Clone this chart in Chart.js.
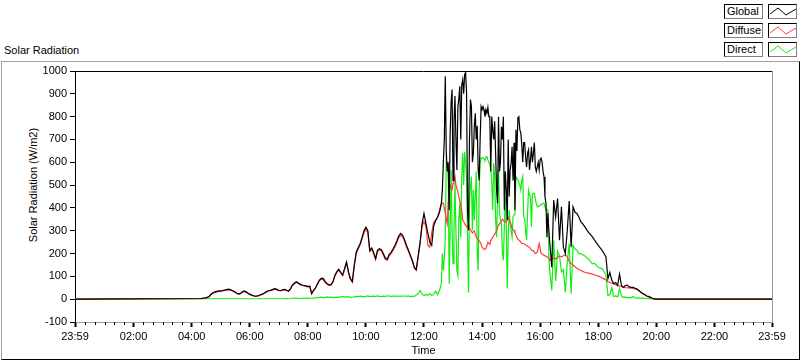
<!DOCTYPE html>
<html>
<head>
<meta charset="utf-8">
<script src="https://cdn.jsdelivr.net/npm/chart.js@4.4.0/dist/chart.umd.min.js"></script>
<style>
  body { margin: 0; background: #fff; font-family: "Liberation Sans", Arial, sans-serif; font-size: 11px; color: #000; }
  #wrap { position: relative; width: 800px; height: 361px; overflow: hidden; }
  #frame { position: absolute; left: 1px; top: 61px; width: 799px; height: 299px; box-sizing: border-box;
           border-top: 1px solid #a0a0a0; border-left: 1px solid #a0a0a0; border-right: 1px solid #000; border-bottom: 1px solid #000; }
  #title { position: absolute; left: 4px; top: 44px; white-space: nowrap; }
  #ytitle { position: absolute; left: 32.5px; top: 184.5px; transform: translate(-50%, -50%) rotate(-90deg); white-space: nowrap; }
  #chart { position: absolute; left: 0; top: 0; }
  .lbl { position: absolute; left: 724px; width: 39px; height: 15px; box-sizing: border-box; border: 1px solid #000;
         border-right-color: #808080; border-bottom-color: #808080; line-height: 13px; padding-left: 2px; background: #fff; }
  .smp { position: absolute; left: 768px; width: 29px; height: 15px; box-sizing: border-box; border: 1px solid #000;
         border-right-color: #808080; border-bottom-color: #808080; background: #fff; }
  .smp svg { position: absolute; left: 0; top: 0; }
</style>
</head>
<body>
<div id="wrap">
  <div id="frame"></div>
  <div id="title">Solar Radiation</div>
  <div id="ytitle">Solar Radiation (W/m2)</div>
  <div id="legend"></div>
  <canvas id="chart" width="800" height="361"></canvas>
</div>
<script>
// 取樣段落 (分鐘)：早上每 4 分鐘，中午每 2 分鐘，下午每 4 分鐘
const segments = [
    { start: 260, step: 4, count: 125 },  // 04:20 - 12:36
    { start: 758, step: 2, count: 111 },  // 12:38 - 16:18
    { start: 980, step: 4, count: 58 }    // 16:20 - 20:08
];
const axisStart = -1;   // 前一天 23:59
const axisEnd = 1439;   // 23:59

const seriesNames = ['Global', 'Diffuse', 'Direct'];
const seriesColors = ['#000000', '#ff3b3b', '#12ee12'];

const globalValues = [
  // 04:20 - 12:36
  3, 5, 6, 8, 12, 22, 28, 32, 34, 36,
  36, 38, 40, 42, 44, 42, 38, 34, 28, 23,
  24, 30, 36, 33, 27, 22, 18, 15, 13, 14,
  17, 21, 24, 30, 35, 38, 40, 43, 46, 43,
  39, 38, 41, 43, 40, 36, 45, 62, 70, 77,
  72, 66, 62, 60, 58, 56, 57, 24, 40, 50,
  68, 84, 92, 90, 76, 68, 63, 64, 77, 105,
  121, 131, 118, 106, 135, 163, 120, 90, 77, 150,
  206, 225, 243, 270, 300, 315, 300, 214, 225, 205,
  178, 215, 221, 217, 200, 180, 175, 195, 205, 220,
  236, 255, 278, 288, 280, 260, 235, 215, 192, 170,
  140, 130, 190, 250, 330, 376, 332, 290, 250, 236,
  320, 345, 359, 380, 421,
  // 12:38 - 16:18
  480, 600, 700, 977, 650, 560, 600, 390, 720, 861,
  919, 520, 780, 890, 700, 566, 840, 880, 933, 700,
  940, 963, 900, 985, 993, 905, 390, 302, 700, 875,
  844, 600, 640, 760, 815, 700, 760, 566, 520, 700,
  844, 830, 844, 830, 800, 830, 815, 840, 800, 800,
  560, 800, 742, 700, 780, 640, 478, 421, 800, 560,
  600, 756, 700, 800, 390, 560, 478, 346, 700, 450,
  566, 594, 668, 520, 686, 390, 742, 650, 795, 800,
  742, 730, 680, 600, 686, 686, 620, 580, 640, 655,
  566, 611, 668, 600, 640, 686, 580, 560, 580, 600,
  566, 611, 618, 600, 560, 536, 448, 420, 271, 376,
  300,
  // 16:20 - 20:08
  244, 140, 434, 360, 441, 258, 405, 228, 200, 300,
  430, 228, 405, 381, 376, 360, 340, 330, 318, 305,
  293, 283, 273, 260, 248, 236, 225, 214, 200, 185,
  90, 117, 83, 68, 73, 60, 110, 60, 52, 60,
  62, 54, 52, 52, 48, 44, 38, 30, 25, 20,
  14, 12, 8, 4, 1, 0, 0, 0
];

const diffuseValues = [
  // 04:20 - 12:36
  2, 4, 5, 7, 11, 20, 26, 30, 32, 33,
  34, 36, 38, 40, 41, 40, 36, 32, 27, 22,
  23, 28, 34, 31, 25, 21, 17, 14, 12, 13,
  16, 20, 23, 28, 33, 36, 38, 41, 44, 41,
  37, 36, 39, 41, 38, 34, 43, 59, 67, 73,
  69, 63, 60, 58, 56, 54, 55, 23, 38, 48,
  65, 80, 88, 86, 73, 65, 60, 61, 74, 101,
  117, 127, 114, 102, 131, 158, 116, 87, 74, 145,
  200, 219, 237, 263, 292, 306, 292, 208, 219, 199,
  173, 209, 215, 211, 194, 175, 170, 189, 199, 214,
  229, 248, 270, 280, 272, 253, 228, 209, 186, 165,
  136, 126, 184, 243, 320, 340, 320, 236, 228, 290,
  337, 345, 359, 390, 420,
  // 12:38 - 16:18
  420, 421, 400, 376, 350, 330, 421, 470, 500, 490,
  480, 508, 520, 537, 500, 485, 470, 450, 430, 410,
  390, 346, 340, 330, 325, 317, 322, 320, 312, 305,
  298, 290, 295, 300, 285, 272, 268, 262, 256, 250,
  240, 228, 224, 218, 218, 222, 235, 250, 245, 240,
  256, 265, 272, 278, 285, 292, 300, 312, 325, 330,
  335, 342, 350, 345, 340, 339, 338, 350, 360, 350,
  340, 325, 310, 306, 302, 291, 280, 271, 262, 259,
  256, 250, 244, 244, 244, 241, 238, 235, 232, 230,
  228, 222, 215, 214, 212, 206, 200, 202, 205, 225,
  244, 222, 200, 198, 195, 192, 190, 188, 186, 183,
  180,
  // 16:20 - 20:08
  170, 178, 180, 176, 184, 190, 186, 190, 195, 185,
  165, 156, 150, 142, 136, 130, 126, 122, 118, 116,
  114, 112, 110, 107, 104, 101, 97, 93, 89, 84,
  76, 73, 70, 67, 64, 61, 58, 55, 53, 51,
  50, 49, 48, 47, 45, 43, 37, 30, 24, 19,
  14, 10, 6, 3, 1, 0, 0, 0
];

const directValues = [
  // 04:20 - 12:36
  2, 2, 2, 2, 2, 2, 2, 2, 2, 2,
  2, 2, 2, 2, 2, 2, 2, 2, 2, 2,
  2, 2, 2, 2, 2, 2, 2, 2, 2, 2,
  2, 2, 2, 2, 2, 2, 2, 2, 2, 2,
  2, 2, 2, 2, 3, 2, 3, 5, 3, 6,
  3, 4, 3, 5, 4, 6, 3, 4, 5, 6,
  8, 7, 9, 6, 8, 10, 8, 9, 7, 8,
  9, 8, 10, 12, 9, 11, 10, 8, 9, 10,
  12, 11, 13, 12, 10, 12, 14, 11, 12, 13,
  12, 14, 12, 11, 13, 12, 14, 15, 12, 13,
  14, 13, 12, 14, 13, 15, 12, 14, 11, 13,
  12, 18, 25, 38, 22, 16, 20, 18, 24, 16,
  22, 35, 20, 38, 68,
  // 12:38 - 16:18
  200, 126, 184, 272, 611, 590, 580, 68, 300, 566,
  300, 156, 302, 508, 300, 126, 104, 350, 420, 272,
  537, 640, 500, 646, 600, 537, 272, 28, 420, 500,
  537, 302, 480, 346, 450, 560, 200, 126, 480, 597,
  618, 618, 620, 615, 610, 622, 625, 610, 600, 590,
  566, 510, 391, 597, 537, 350, 272, 449, 566, 376,
  350, 331, 200, 170, 317, 449, 317, 47, 273, 391,
  332, 300, 273, 361, 370, 400, 537, 530, 523, 510,
  500, 478, 520, 537, 361, 350, 300, 258, 376, 478,
  460, 449, 317, 464, 464, 464, 440, 420, 404, 404,
  410, 410, 414, 418, 420, 420, 420, 391, 391, 391,
  184,
  // 16:20 - 20:08
  120, 38, 258, 80, 210, 190, 120, 130, 30, 160,
  244, 24, 236, 220, 215, 200, 200, 195, 190, 182,
  177, 165, 155, 158, 148, 141, 136, 134, 120, 106,
  16, 20, 50, 12, 14, 10, 46, 14, 8, 10,
  6, 8, 6, 12, 6, 5, 6, 4, 6, 3,
  4, 2, 3, 1, 0, 0, 0, 0
];

// Y 軸刻度
const yMin = -100, yMax = 1000, yStep = 100;
// X 軸主刻度 (分鐘) 及次刻度間隔
const xMajorTicks = [-1, 120, 240, 360, 480, 600, 720, 840, 960, 1080, 1200, 1320, 1439];
const xMinorStep = 20;

function clockLabel(m) {
    const t = ((m % 1440) + 1440) % 1440;
    const h = Math.floor(t / 60), mm = t % 60;
    return String(h).padStart(2, '0') + ':' + String(mm).padStart(2, '0');
}

// 取樣時間
const sampleMinutes = [];
segments.forEach(s => {
    for (let i = 0; i < s.count; i++) sampleMinutes.push(s.start + i * s.step);
});

function toPoints(values) {
    const pts = [{ x: axisStart, y: 0 }];
    values.forEach((v, i) => pts.push({ x: sampleMinutes[i], y: v }));
    pts.push({ x: axisEnd, y: 0 });
    return pts;
}

// 次刻度 (每 20 分鐘，不含主刻度)
const xMinorTicks = [];
for (let m = xMinorStep; m < axisEnd; m += xMinorStep) {
    if (!xMajorTicks.includes(m)) xMinorTicks.push(m);
}

// 圖例
const legend = document.getElementById('legend');
const zig = '1,9 9,3 17,10 27,4';
seriesNames.forEach((name, i) => {
    const top = 4 + i * 19;
    legend.insertAdjacentHTML('beforeend',
        `<div class="lbl" style="top:${top}px">${name}</div>` +
        `<div class="smp" style="top:${top}px"><svg width="27" height="13"><polyline points="${zig}" fill="none" stroke="${seriesColors[i]}" stroke-width="1"/></svg></div>`);
});

// 繪圖框上邊、右邊及 X 軸次刻度
const plotFrame = {
    id: 'plotFrame',
    afterDraw(chart) {
        const { ctx, chartArea: a } = chart;
        const xs = chart.scales.x;
        ctx.save();
        ctx.lineWidth = 1;
        ctx.strokeStyle = '#000';
        ctx.beginPath(); ctx.moveTo(a.left, a.top + 0.5); ctx.lineTo(a.right, a.top + 0.5); ctx.stroke();
        ctx.beginPath();
        xMinorTicks.forEach(m => {
            const px = Math.round(xs.getPixelForValue(m)) + 0.5;
            ctx.moveTo(px, a.bottom); ctx.lineTo(px, a.bottom + 3);
        });
        ctx.stroke();
        ctx.strokeStyle = '#9a9a9a';
        ctx.beginPath(); ctx.moveTo(a.right + 0.5, a.top); ctx.lineTo(a.right + 0.5, a.bottom + 1); ctx.stroke();
        ctx.restore();
    }
};

const font = { family: '"Liberation Sans", Arial, sans-serif', size: 11 };
const allValues = [globalValues, diffuseValues, directValues];

new Chart(document.getElementById('chart').getContext('2d'), {
    type: 'line',
    data: {
        datasets: seriesNames.map((name, i) => ({
            label: name,
            data: toPoints(allValues[i]),
            borderColor: seriesColors[i],
            borderWidth: 1.2,
            pointRadius: 0,
            tension: 0,
            fill: false
        }))
    },
    options: {
        responsive: false,
        animation: false,
        layout: { padding: { top: 71, right: 28, left: 0, bottom: 0 } },
        plugins: { legend: { display: false }, tooltip: { enabled: false } },
        scales: {
            x: {
                type: 'linear',
                min: axisStart,
                max: axisEnd,
                afterBuildTicks: scale => { scale.ticks = xMajorTicks.map(v => ({ value: v })); },
                afterFit: scale => { scale.height = 39; },
                ticks: {
                    autoSkip: false,
                    maxRotation: 0,
                    padding: 3,
                    color: '#000',
                    font: font,
                    callback: v => clockLabel(v)
                },
                grid: {
                    drawOnChartArea: false,
                    drawTicks: true,
                    tickLength: 5,
                    tickColor: '#000',
                    tickWidth: 2
                },
                border: { display: true, color: '#9a9a9a', width: 1 },
                title: { display: true, text: 'Time', color: '#000', font: font, padding: { top: 0, bottom: 3 } }
            },
            y: {
                min: yMin,
                max: yMax,
                afterFit: scale => { scale.width = 75; },
                ticks: { stepSize: yStep, padding: 3, color: '#000', font: font, callback: v => String(v) },
                grid: { drawOnChartArea: false, drawTicks: true, tickLength: 5, tickColor: '#000' },
                border: { display: true, color: '#000', width: 1 }
            }
        }
    },
    plugins: [plotFrame]
});
</script>
</body>
</html>
